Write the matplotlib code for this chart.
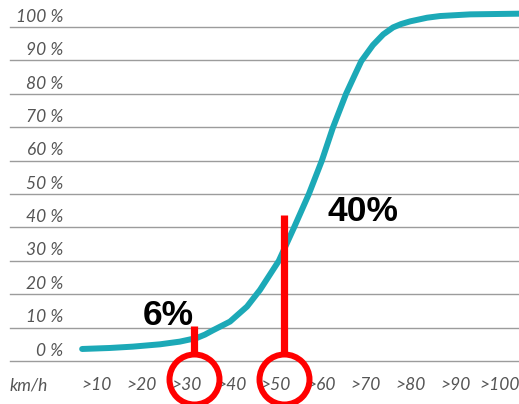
import matplotlib
matplotlib.use("Agg")
import matplotlib.pyplot as plt
import matplotlib.transforms as mtransforms

# curve: speed (km/h) vs share (%)
speed = [6.7, 12.9, 18.0, 24.1, 28.5, 32.3, 34.1, 35.9, 39.7, 43.5, 46.4, 50.6,
         54.0, 57.3, 60.2, 62.7, 65.6, 67.6, 69.0, 71.6, 73.9, 76.1, 77.9,
         79.9, 83.7, 86.6, 93.3, 104.2]
share = [3.6, 3.9, 4.3, 5.0, 5.8, 6.9, 7.9, 9.2, 11.8, 16.3, 21.3, 30.0,
         40.0, 50.0, 60.0, 70.0, 80.0, 85.8, 89.8, 94.6, 97.8, 99.9, 100.9,
         101.7, 102.8, 103.3, 103.8, 104.0]

y_ticks = [0, 10, 20, 30, 40, 50, 60, 70, 80, 90, 100]
y_labels = [f"{v} %" for v in y_ticks]
x_ticks = [10, 20, 30, 40, 50, 60, 70, 80, 90, 100]
x_labels = [f">{v}" for v in x_ticks]

# red call-outs
mark_x = [31.7, 51.7]
mark_top = [10.5, 43.7]
call_text = ["6%", "40%"]
call_x = [26.0, 69.3]
call_y = [10.8, 41.9]

teal = "#1ca9b7"
grey_txt = "#555555"

fig = plt.figure(figsize=(5.19, 4.04), dpi=100)
ax = fig.add_axes([10 / 519, 43 / 404, 509 / 519, 361 / 404])
ax.set_xlim(-9.4, 104.2)
ax.set_ylim(0, 108.1)
ax.axis("off")

for v in y_ticks:
    ax.axhline(v, color="#9c9c9c", lw=1.0, zorder=1, clip_on=False)

lab_tr = mtransforms.blended_transform_factory(ax.transAxes, ax.transData)
font = dict(fontsize=12.5, family="Lato", style="italic", color=grey_txt)
for v, s in zip(y_ticks, y_labels):
    ax.text(0.104, v + 0.7, s, transform=lab_tr, ha="right", va="bottom", **font)

for v, s in zip(x_ticks, x_labels):
    ax.text(v, -7.2, s, ha="center", va="center", clip_on=False, **font)
ax.text(0.0, -7.2, "km/h", transform=lab_tr, ha="left", va="center",
        clip_on=False, **font)

ax.plot(speed, share, color=teal, lw=4.3, solid_capstyle="round",
        solid_joinstyle="round", zorder=3)

for x, top in zip(mark_x, mark_top):
    ax.plot([x, x], [top, 2.6], color="red", lw=5.2, solid_capstyle="butt",
            zorder=4, clip_on=False)
    ax.plot([x], [-5.4], marker="o", markersize=36, mfc="none", mec="red",
            mew=4.3, zorder=4, clip_on=False)

for x, y, s in zip(call_x, call_y, call_text):
    ax.text(x, y, s, ha="center", va="baseline", fontsize=25.5,
            family="Liberation Sans", weight="bold", color="black", zorder=5)

fig.savefig("out.png", dpi=100)
